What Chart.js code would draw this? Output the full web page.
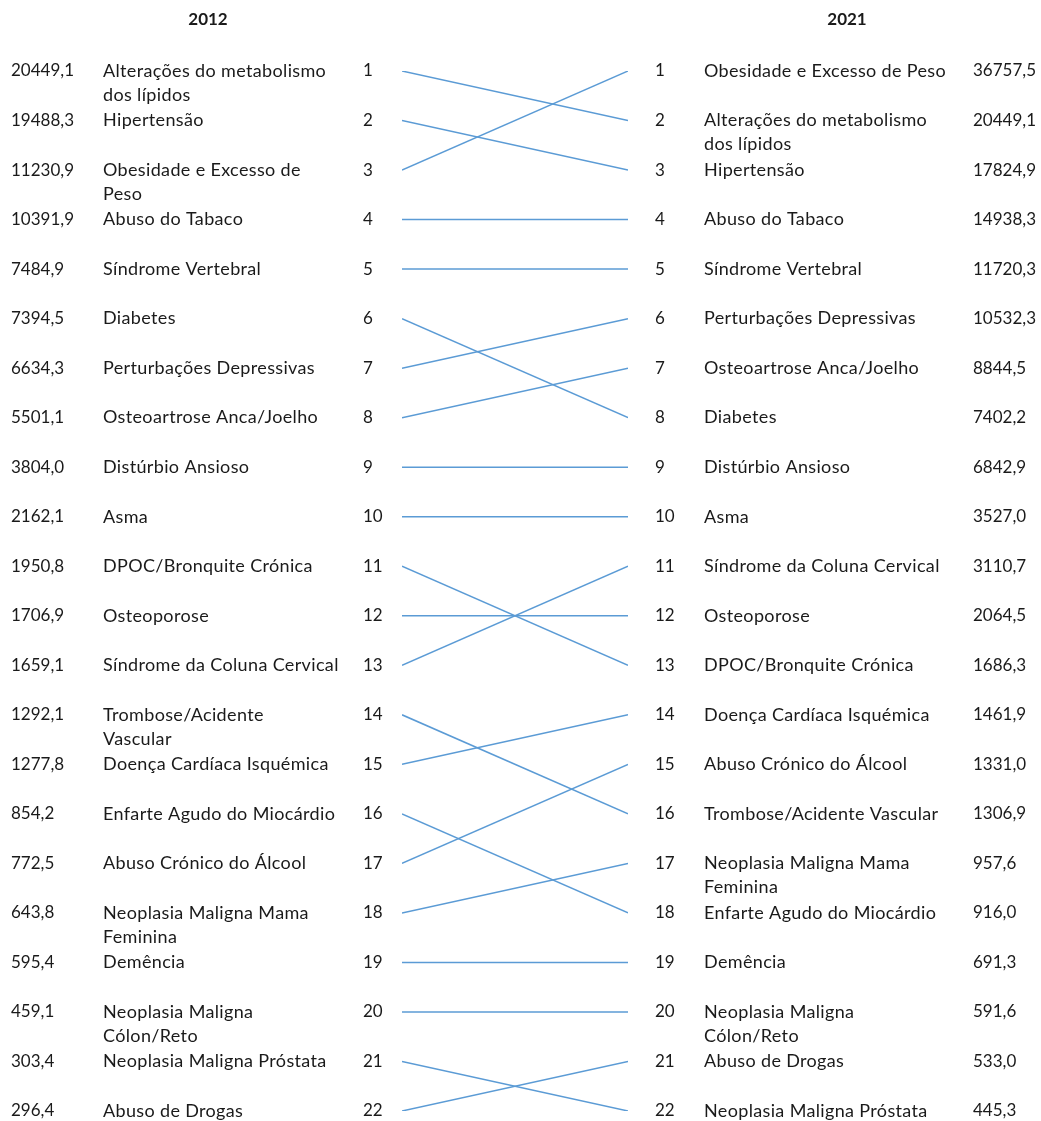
<!DOCTYPE html>
<html>
<head>
<meta charset="utf-8">
<script src="https://cdn.jsdelivr.net/npm/chart.js@4"></script>
<style>
  html, body { margin: 0; padding: 0; background: #ffffff; }
  #wrap { width: 1041px; height: 1121px; position: relative; }
</style>
</head>
<body>
<div id="wrap"><canvas id="c"></canvas></div>
<script>
// ---- Data ----
const years = ["2012", "2021"];

const names2012 = [
  "Alterações do metabolismo\ndos lípidos",
  "Hipertensão",
  "Obesidade e Excesso de\nPeso",
  "Abuso do Tabaco",
  "Síndrome Vertebral",
  "Diabetes",
  "Perturbações Depressivas",
  "Osteoartrose Anca/Joelho",
  "Distúrbio Ansioso",
  "Asma",
  "DPOC/Bronquite Crónica",
  "Osteoporose",
  "Síndrome da Coluna Cervical",
  "Trombose/Acidente\nVascular",
  "Doença Cardíaca Isquémica",
  "Enfarte Agudo do Miocárdio",
  "Abuso Crónico do Álcool",
  "Neoplasia Maligna Mama\nFeminina",
  "Demência",
  "Neoplasia Maligna\nCólon/Reto",
  "Neoplasia Maligna Próstata",
  "Abuso de Drogas"
];
const values2012 = ["20449,1","19488,3","11230,9","10391,9","7484,9","7394,5","6634,3","5501,1","3804,0","2162,1","1950,8","1706,9","1659,1","1292,1","1277,8","854,2","772,5","643,8","595,4","459,1","303,4","296,4"];

const names2021 = [
  "Obesidade e Excesso de Peso",
  "Alterações do metabolismo\ndos lípidos",
  "Hipertensão",
  "Abuso do Tabaco",
  "Síndrome Vertebral",
  "Perturbações Depressivas",
  "Osteoartrose Anca/Joelho",
  "Diabetes",
  "Distúrbio Ansioso",
  "Asma",
  "Síndrome da Coluna Cervical",
  "Osteoporose",
  "DPOC/Bronquite Crónica",
  "Doença Cardíaca Isquémica",
  "Abuso Crónico do Álcool",
  "Trombose/Acidente Vascular",
  "Neoplasia Maligna Mama\nFeminina",
  "Enfarte Agudo do Miocárdio",
  "Demência",
  "Neoplasia Maligna\nCólon/Reto",
  "Abuso de Drogas",
  "Neoplasia Maligna Próstata"
];
const values2021 = ["36757,5","20449,1","17824,9","14938,3","11720,3","10532,3","8844,5","7402,2","6842,9","3527,0","3110,7","2064,5","1686,3","1461,9","1331,0","1306,9","957,6","916,0","691,3","591,6","533,0","445,3"];

// ---- Build line datasets (rank 2012 -> rank 2021) ----
const norm = s => s.replace(/\n/g, " ");
const keys2021 = names2021.map(norm);
const datasets = names2012.map((n, i) => ({
  label: norm(n),
  data: [{x: 0, y: i + 1}, {x: 1, y: keys2021.indexOf(norm(n)) + 1}],
  borderColor: "#5B9BD5",
  borderWidth: 1.5,
  pointRadius: 0,
  fill: false,
  tension: 0
}));

const FONT = "Lato, 'Noto Sans', sans-serif";
const TEXT = "#1a1a1a";

const textPlugin = {
  id: "rankText",
  afterDraw(chart) {
    const ctx = chart.ctx;
    const y = chart.scales.y;
    ctx.save();
    ctx.fillStyle = TEXT;
    ctx.textBaseline = "middle";
    // titles
    ctx.font = "bold 17px " + FONT;
    ctx.textAlign = "center";
    ctx.fillText(years[0], 208, 20);
    ctx.fillText(years[1], 847, 20);
    ctx.textAlign = "left";
    const lh = 24;
    const setNum = () => { ctx.font = "17px " + FONT; ctx.letterSpacing = "0px"; };
    const setName = () => { ctx.font = "18px " + FONT; ctx.letterSpacing = "0.35px"; };
    const drawLines = (str, x, py) => {
      str.split("\n").forEach((t, k) => ctx.fillText(t, x, py + k * lh));
    };
    names2012.forEach((n, i) => {
      const py = y.getPixelForValue(i + 1);
      setNum();
      ctx.fillText(values2012[i], 11, py);
      ctx.fillText(String(i + 1), 363, py);
      setName();
      drawLines(n, 103, py);
    });
    names2021.forEach((n, i) => {
      const py = y.getPixelForValue(i + 1);
      setNum();
      ctx.fillText(String(i + 1), 655, py);
      ctx.fillText(values2021[i], 973, py);
      setName();
      drawLines(n, 704, py);
    });
    ctx.restore();
  }
};

new Chart(document.getElementById("c"), {
  type: "line",
  data: { datasets },
  options: {
    responsive: true,
    maintainAspectRatio: false,
    animation: false,
    layout: { padding: { left: 402, right: 413, top: 71, bottom: 10 } },
    plugins: { legend: { display: false }, tooltip: { enabled: false } },
    scales: {
      x: { type: "linear", min: 0, max: 1, display: false },
      y: { type: "linear", min: 1, max: 22, reverse: true, display: false }
    }
  },
  plugins: [textPlugin]
});
</script>
</body>
</html>
